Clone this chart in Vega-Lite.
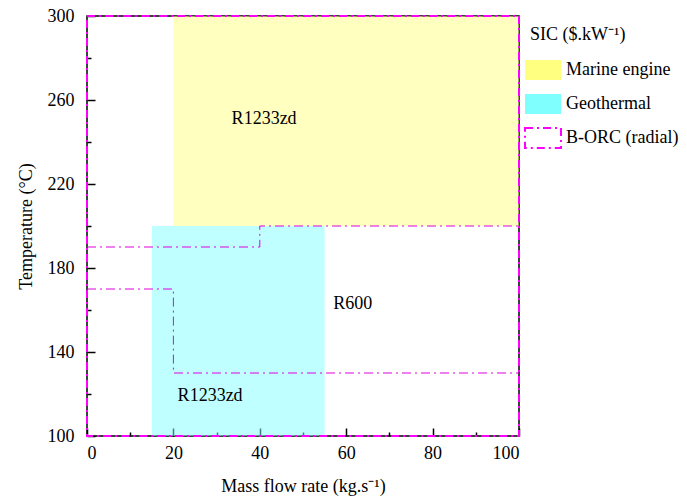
{
  "$schema": "https://vega.github.io/schema/vega-lite/v6.json",
  "autosize": "none",
  "width": 432,
  "height": 420,
  "padding": {"left": 87, "top": 16, "right": 168, "bottom": 64},
  "background": "white",
  "config": {
    "font": "Liberation Serif",
    "view": {"stroke": "black", "strokeWidth": 1.5},
    "axis": {"labelFont": "Liberation Serif", "titleFont": "Liberation Serif", "labelFontSize": 18, "titleFontSize": 18, "titleFontWeight": "normal", "labelColor": "black", "titleColor": "black", "domain": false, "grid": false, "tickColor": "black", "tickWidth": 1.5}
  },
  "layer": [
    {
      "data": {"values": [
        {"type": "Marine engine", "x0": 20, "x1": 100, "y0": 200, "y1": 300},
        {"type": "Geothermal", "x0": 15, "x1": 55, "y0": 100, "y1": 200},
        {"type": "B-ORC (radial)", "x0": 0, "x1": 100, "y0": 100, "y1": 300}
      ]},
      "mark": {"type": "rect", "fillOpacity": 0.5, "strokeWidth": 2, "strokeDash": [8, 4, 2, 4]},
      "encoding": {
        "x": {"field": "x0", "type": "quantitative", "scale": {"domain": [0, 100], "nice": false},
          "axis": {"title": "Mass flow rate (kg.s⁻¹)", "values": [0, 10, 20, 30, 40, 50, 60, 70, 80, 90, 100],
            "labelExpr": "datum.value % 20 === 0 ? datum.label : ''",
            "tickSize": {"condition": {"test": "datum.value % 20 === 0", "value": -8}, "value": -4},
            "labelPadding": 16, "titlePadding": 15, "orient": "bottom"}},
        "x2": {"field": "x1"},
        "y": {"field": "y0", "type": "quantitative", "scale": {"domain": [100, 300], "nice": false},
          "axis": {"title": "Temperature (°C)", "values": [100, 120, 140, 160, 180, 200, 220, 240, 260, 280, 300],
            "labelExpr": "(datum.value - 100) % 40 === 0 ? datum.label : ''",
            "tickSize": {"condition": {"test": "(datum.value - 100) % 40 === 0", "value": -8}, "value": -4},
            "labelPadding": 21, "titlePadding": 12, "orient": "left"}},
        "y2": {"field": "y1"},
        "fill": {"field": "type", "type": "nominal",
          "scale": {"domain": ["Marine engine", "Geothermal", "B-ORC (radial)"], "range": ["#FFFF80", "#80FFFF", "rgba(255,255,255,0)"]},
          "legend": {"title": "SIC ($.kW⁻¹)", "orient": "none", "legendX": 437, "legendY": 10, "padding": 0,
            "titleFont": "Liberation Serif", "titleFontSize": 18, "titleFontWeight": "normal", "titleColor": "black", "titlePadding": 7,
            "labelFont": "Liberation Serif", "labelFontSize": 18, "labelColor": "black", "labelOffset": 4,
            "symbolType": "M-1,-0.55L1,-0.55L1,0.55L-1,0.55Z", "symbolSize": 1296, "rowPadding": 1,
            "encode": {"title": {"update": {"dx": {"value": 6}}}, "symbols": {"update": {"fillOpacity": {"value": 1}, "strokeWidth": {"value": 2}, "strokeDash": {"value": [8, 4, 2, 4]}}}}}},
        "stroke": {"field": "type", "type": "nominal",
          "scale": {"domain": ["Marine engine", "Geothermal", "B-ORC (radial)"], "range": ["rgba(255,255,255,0)", "rgba(255,255,255,0)", "#FF00FF"]},
          "legend": {"title": "SIC ($.kW⁻¹)"}}
      }
    },
    {
      "data": {"values": [
        {"s": "a", "o": 1, "x": 0, "y": 190},
        {"s": "a", "o": 2, "x": 40, "y": 190},
        {"s": "a", "o": 3, "x": 40, "y": 200},
        {"s": "a", "o": 4, "x": 100, "y": 200},
        {"s": "b", "o": 1, "x": 0, "y": 170},
        {"s": "b", "o": 2, "x": 20, "y": 170},
        {"s": "b", "o": 3, "x": 20, "y": 130},
        {"s": "b", "o": 4, "x": 100, "y": 130}
      ]},
      "mark": {"type": "line", "color": "#E000E0", "strokeWidth": 1, "strokeDash": [9, 4, 2, 4]},
      "encoding": {
        "x": {"field": "x", "type": "quantitative"},
        "y": {"field": "y", "type": "quantitative"},
        "detail": {"field": "s"},
        "order": {"field": "o"}
      }
    },
    {
      "data": {"values": [
        {"x": 41, "y": 251, "label": "R1233zd"},
        {"x": 61.5, "y": 163, "label": "R600"},
        {"x": 28.5, "y": 119, "label": "R1233zd"}
      ]},
      "mark": {"type": "text", "font": "Liberation Serif", "fontSize": 18, "color": "black"},
      "encoding": {
        "x": {"field": "x", "type": "quantitative"},
        "y": {"field": "y", "type": "quantitative"},
        "text": {"field": "label"}
      }
    }
  ]
}
